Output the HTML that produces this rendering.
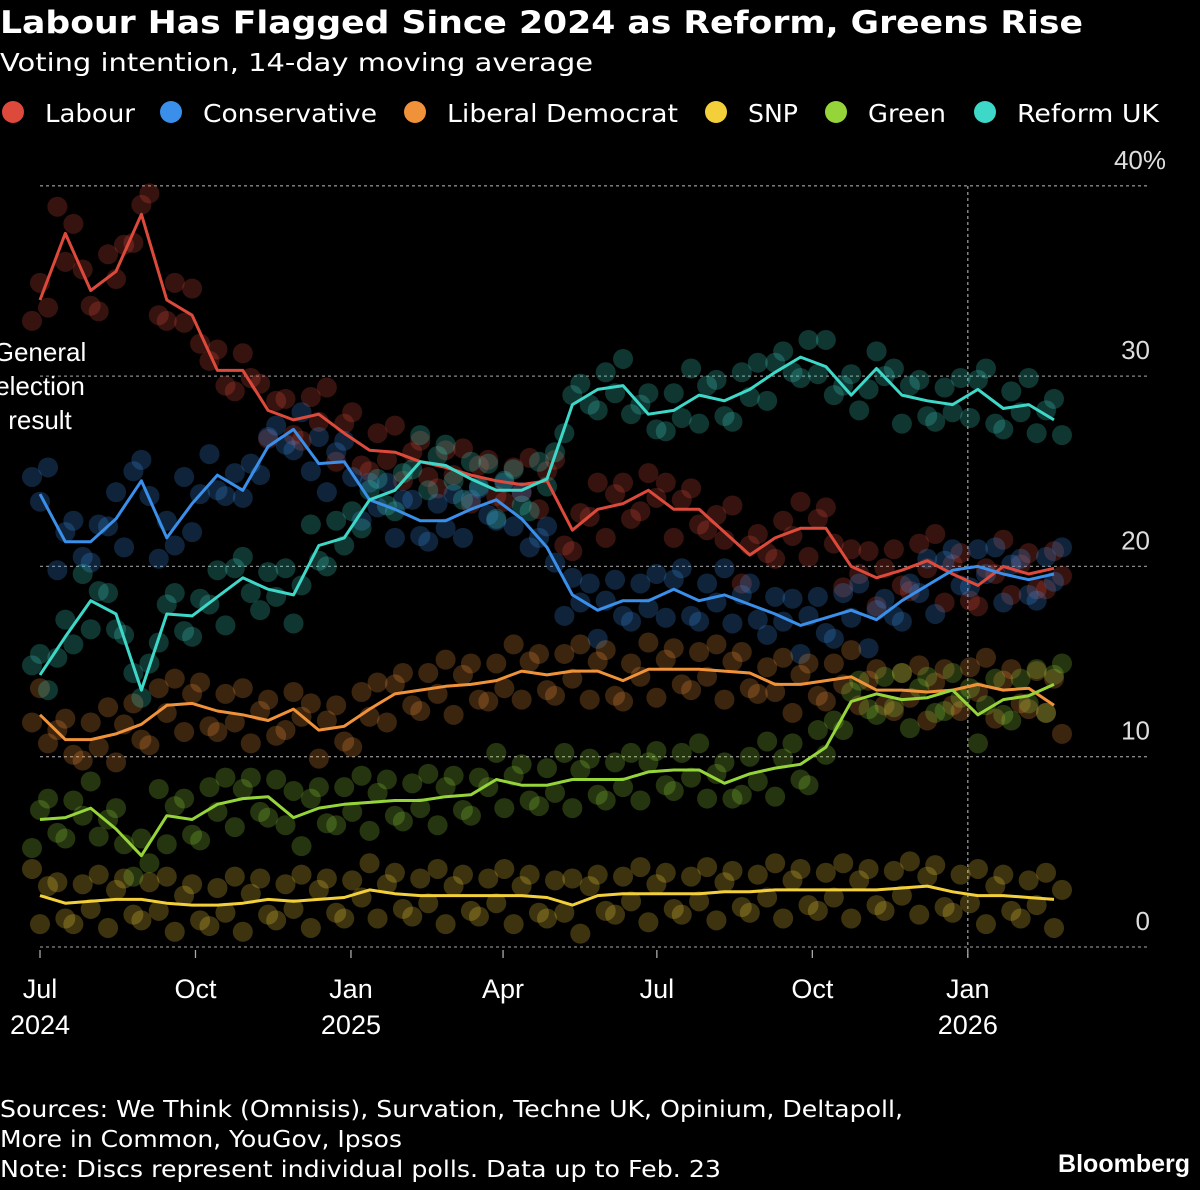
<!DOCTYPE html>
<html><head><meta charset="utf-8">
<style>
html,body{margin:0;padding:0;background:#000;}
body{width:1200px;height:1185px;overflow:hidden;font-family:"Liberation Sans",sans-serif;color:#fff;}
svg text{font-family:"Liberation Sans",sans-serif;}
svg text.dv{font-family:"DejaVu Sans",sans-serif;}
</style></head>
<body>
<svg id="chart" width="1200" height="1185" viewBox="0 0 1200 1185" xmlns="http://www.w3.org/2000/svg">
<text class="dv" x="0" y="33" font-size="31" font-weight="bold" fill="#fff" textLength="1083" lengthAdjust="spacingAndGlyphs">Labour Has Flagged Since 2024 as Reform, Greens Rise</text>
<text class="dv" x="0" y="71" font-size="25" fill="#fff" textLength="593" lengthAdjust="spacingAndGlyphs">Voting intention, 14-day moving average</text>
<g id="legend"></g>
<g id="grid"></g>
<g id="dots"></g>
<g id="lines"></g>
<g id="axes"></g>
<g font-size="26" fill="#fff" text-anchor="middle">
<text x="40" y="361">General</text><text x="40" y="395">election</text><text x="40" y="429">result</text>
</g>
<text class="dv" x="0" y="1117" font-size="23" fill="#fff" textLength="903" lengthAdjust="spacingAndGlyphs">Sources: We Think (Omnisis), Survation, Techne UK, Opinium, Deltapoll,</text>
<text class="dv" x="0" y="1147" font-size="23" fill="#fff" textLength="402" lengthAdjust="spacingAndGlyphs">More in Common, YouGov, Ipsos</text>
<text class="dv" x="0" y="1177" font-size="23" fill="#fff" textLength="721" lengthAdjust="spacingAndGlyphs">Note: Discs represent individual polls. Data up to Feb. 23</text>
<text x="1190" y="1172" font-size="25" font-weight="bold" fill="#fff" text-anchor="end">Bloomberg</text>
</svg>
<script>
const NS="http://www.w3.org/2000/svg";
const days=[];for(let d=0;d<=600;d+=15)days.push(d);
const parties=["Labour","Conservative","Liberal Democrat","SNP","Green","Reform UK"];
const colors=["#dd4a3b","#3a8fea","#f0923a","#f3d03a","#95d53a","#3ed8c9"];
const labour=[34,37.5,34.5,35.5,38.5,34,33.2,30.3,30.3,28.2,27.7,28,27,26.1,26,25.5,25.2,24.8,24.5,24.3,24.5,21.9,23,23.3,24,23,23,21.8,20.6,21.5,22,22,20,19.4,19.8,20.3,19.6,19,20,19.6,19.9];
const conservative=[23.8,21.3,21.3,22.5,24.5,21.5,23.3,24.8,24,26.3,27.2,25.4,25.5,23.5,23,22.4,22.4,23,23.5,22.5,21,18.5,17.7,18.2,18.2,18.8,18.2,18.5,18,17.5,16.9,17.3,17.7,17.2,18.2,19,19.8,20,19.6,19.3,19.6];
const libdem=[12.2,10.9,10.9,11.2,11.7,12.7,12.8,12.4,12.2,11.9,12.5,11.4,11.6,12.5,13.3,13.5,13.7,13.8,14,14.5,14.3,14.5,14.5,14,14.6,14.6,14.6,14.5,14.4,13.8,13.8,14,14.2,13.5,13.5,13.4,13.5,13.8,13.5,13.6,12.7];
const snp=[2.7,2.3,2.4,2.5,2.5,2.3,2.2,2.2,2.3,2.5,2.4,2.5,2.6,3.0,2.8,2.7,2.7,2.7,2.7,2.7,2.6,2.2,2.7,2.8,2.8,2.8,2.8,2.9,2.9,3.0,3.0,3.0,3.0,3.0,3.1,3.2,2.9,2.7,2.7,2.6,2.5];
const green=[6.7,6.8,7.3,6.2,4.8,6.9,6.7,7.5,7.8,7.9,6.8,7.3,7.5,7.6,7.7,7.7,7.9,8,8.8,8.5,8.5,8.8,8.8,8.8,9.2,9.3,9.3,8.6,9.1,9.4,9.6,10.5,12.9,13.3,13,13.1,13.5,12.2,13,13.2,13.8];
const reform=[14.3,16.3,18.2,17.5,13.5,17.5,17.4,18.4,19.4,18.8,18.5,21.1,21.5,23.5,24,25.5,25.3,24.6,24,24,24.6,28.5,29.3,29.5,28,28.2,29,28.7,29.3,30.2,31,30.5,29,30.4,29,28.7,28.5,29.3,28.3,28.5,27.7];
const seriesVals=[labour,conservative,libdem,snp,green,reform];
const pollSpread=[-1.1,0.9,-0.4,1.4,-1.5,0.5,1.1,-0.8];
const yTicks=[0,10,20,30,40];
const yTickLabels=["0","10","20","30","40%"];
const xTickDays=[0,92,184,274,365,457,549];
const xTickMonths=["Jul","Oct","Jan","Apr","Jul","Oct","Jan"];
const xTickYears=["2024","","2025","","","","2026"];
const X=d=>40+d*1.69;
const Y=v=>947-v*19.03;
function el(t,a,p){const e=document.createElementNS(NS,t);for(const k in a)e.setAttribute(k,a[k]);p.appendChild(e);return e;}
const legend=document.getElementById('legend');
const legX=[13,171,415,716,836,985];
const legW=[90,174,231,50,78,142];
parties.forEach((p,i)=>{
 const c=el('circle',{cx:legX[i],cy:112,r:11,fill:colors[i]},legend);
 
 
 const t=el('text',{x:legX[i]+32,y:122,'font-size':25,fill:'#fff','class':'dv',textLength:legW[i],lengthAdjust:'spacingAndGlyphs'},legend);t.textContent=p;
 
 
});
const grid=document.getElementById('grid');
yTicks.forEach((v,i)=>{
 const l=el('line',{x1:40,x2:1150,y1:Y(v),y2:Y(v),stroke:'#888','stroke-width':1.3,'stroke-dasharray':'3,3'},grid);
 
 
 const t=el('text',{x:1150,y:Y(v)-17,'font-size':26,fill:'#ddd','text-anchor':'end'},grid);t.textContent=yTickLabels[i];
 if(i===4)t.setAttribute('x',1166);
 
 
});
const vl=el('line',{x1:X(549),x2:X(549),y1:186,y2:960,stroke:'#999','stroke-width':1.3,'stroke-dasharray':'3,3'},grid);


const dots=document.getElementById('dots');
seriesVals.forEach((vals,s)=>{
 vals.forEach((v,i)=>{
  for(let j=0;j<3;j++){
   const off=pollSpread[(i*3+j+s)%pollSpread.length];
   const c=el('circle',{cx:X(days[i])+(j-1)*8,cy:Y(v+off),r:10,fill:colors[s],'fill-opacity':0.25},dots);
   
   
  }
 });
});
const lines=document.getElementById('lines');
seriesVals.forEach((vals,s)=>{
 const d=vals.map((v,i)=>(i?'L':'M')+X(days[i]).toFixed(1)+','+Y(v).toFixed(1)).join(' ');
 const p=el('path',{d:d,fill:'none',stroke:colors[s],'stroke-width':3,'stroke-linejoin':'round'},lines);
 
 
});
const axes=document.getElementById('axes');
xTickDays.forEach((d,i)=>{
 const tk=el('line',{x1:X(d),x2:X(d),y1:950,y2:958,stroke:'#aaa','stroke-width':1.3},axes);
 
 
 const t=el('text',{x:X(d),y:998,'font-size':27,fill:'#fff','text-anchor':'middle'},axes);t.textContent=xTickMonths[i];
 
 
 if(xTickYears[i]){const y=el('text',{x:X(d),y:1034,'font-size':27,fill:'#fff','text-anchor':'middle'},axes);y.textContent=xTickYears[i];
 
 }
});
</script>
</body></html>
